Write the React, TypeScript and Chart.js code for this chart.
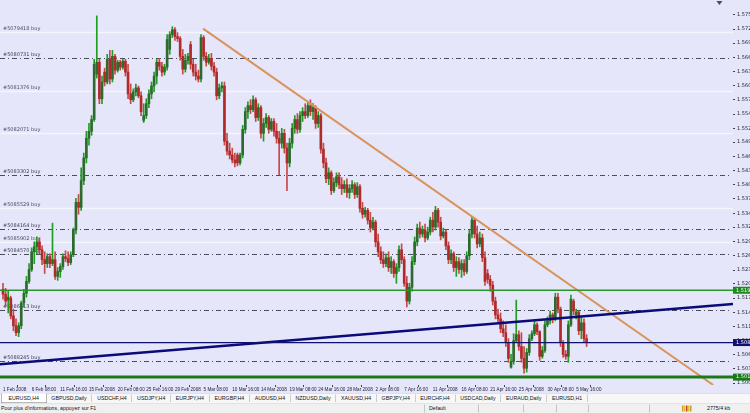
import React, { useEffect, useRef } from 'react';
import { Chart, registerables } from 'chart.js';

Chart.register(...registerables);

// ---------- data ----------
const opens = [
1.5194,1.5184,1.5172,1.5176,1.5140,1.5120,1.5106,1.5120,1.5166,1.5186,
1.5210,1.5234,1.5270,1.5280,1.5290,1.5274,1.5254,1.5246,1.5260,1.5246,
1.5254,1.5220,1.5230,1.5240,1.5260,1.5256,1.5248,1.5264,1.5314,1.5370,
1.5360,1.5414,1.5460,1.5500,1.5514,1.5538,1.5630,1.5654,1.5580,1.5634,
1.5614,1.5660,1.5620,1.5666,1.5638,1.5654,1.5644,1.5656,1.5634,1.5590,
1.5578,1.5594,1.5602,1.5586,1.5536,1.5546,1.5570,1.5590,1.5606,1.5626,
1.5654,1.5646,1.5634,1.5644,1.5680,1.5710,1.5720,1.5706,1.5702,1.5666,
1.5640,1.5658,1.5690,1.5650,1.5634,1.5626,1.5620,1.5704,1.5666,1.5654,
1.5662,1.5646,1.5634,1.5586,1.5602,1.5606,1.5494,1.5474,1.5466,1.5456,
1.5466,1.5450,1.5466,1.5518,1.5554,1.5566,1.5558,1.5578,1.5542,1.5562,
1.5510,1.5530,1.5542,1.5518,1.5534,1.5514,1.5500,1.5490,1.5510,1.5480,
1.5450,1.5490,1.5520,1.5538,1.5518,1.5546,1.5554,1.5546,1.5566,1.5554,
1.5562,1.5530,1.5546,1.5478,1.5450,1.5418,1.5430,1.5394,1.5410,1.5422,
1.5406,1.5398,1.5406,1.5390,1.5398,1.5406,1.5386,1.5402,1.5358,1.5346,
1.5354,1.5334,1.5318,1.5330,1.5290,1.5270,1.5254,1.5246,1.5258,1.5238,
1.5250,1.5226,1.5238,1.5274,1.5254,1.5206,1.5170,1.5198,1.5250,1.5290,
1.5318,1.5306,1.5314,1.5298,1.5310,1.5334,1.5320,1.5354,1.5330,1.5302,
1.5310,1.5282,1.5254,1.5266,1.5238,1.5250,1.5234,1.5246,1.5230,1.5262,
1.5306,1.5334,1.5306,1.5286,1.5298,1.5258,1.5226,1.5214,1.5202,1.5170,
1.5142,1.5134,1.5114,1.5106,1.5086,1.5036,1.5048,1.5090,1.5102,1.5078,
1.5054,1.5034,1.5066,1.5094,1.5104,1.5122,1.5108,1.5058,1.5070,1.5122,
1.5130,1.5142,1.5134,1.5178,1.5154,1.5086,1.5062,1.5058,1.5122,1.5170,
1.5142,1.5148,1.5110,1.5126,1.5094];

const highs = [
1.5206,1.5196,1.5190,1.5180,1.5154,1.5134,1.5126,1.5170,1.5194,1.5220,
1.5246,1.5278,1.5290,1.5300,1.5298,1.5282,1.5270,1.5266,1.5266,1.5328,
1.5270,1.5238,1.5246,1.5266,1.5272,1.5270,1.5270,1.5318,1.5378,1.5386,
1.5440,1.5470,1.5514,1.5530,1.5546,1.5660,1.5748,1.5660,1.5626,1.5642,
1.5670,1.5678,1.5678,1.5670,1.5658,1.5658,1.5660,1.5660,1.5650,1.5610,
1.5600,1.5610,1.5606,1.5594,1.5570,1.5580,1.5598,1.5614,1.5634,1.5660,
1.5662,1.5654,1.5650,1.5710,1.5716,1.5726,1.5724,1.5714,1.5706,1.5680,
1.5670,1.5672,1.5696,1.5660,1.5650,1.5638,1.5710,1.5708,1.5674,1.5670,
1.5672,1.5654,1.5642,1.5610,1.5614,1.5614,1.5510,1.5490,1.5480,1.5470,
1.5470,1.5470,1.5526,1.5562,1.5574,1.5578,1.5586,1.5582,1.5570,1.5566,
1.5540,1.5550,1.5546,1.5540,1.5540,1.5530,1.5514,1.5520,1.5518,1.5490,
1.5500,1.5530,1.5546,1.5550,1.5554,1.5562,1.5570,1.5574,1.5578,1.5570,
1.5566,1.5554,1.5550,1.5490,1.5460,1.5440,1.5434,1.5420,1.5430,1.5430,
1.5420,1.5414,1.5418,1.5406,1.5414,1.5410,1.5410,1.5406,1.5370,1.5360,
1.5358,1.5350,1.5340,1.5334,1.5306,1.5280,1.5270,1.5266,1.5270,1.5260,
1.5254,1.5246,1.5282,1.5286,1.5260,1.5220,1.5206,1.5260,1.5300,1.5326,
1.5330,1.5322,1.5326,1.5320,1.5340,1.5350,1.5362,1.5358,1.5340,1.5318,
1.5314,1.5290,1.5274,1.5270,1.5260,1.5258,1.5254,1.5254,1.5270,1.5314,
1.5342,1.5338,1.5322,1.5310,1.5306,1.5270,1.5234,1.5222,1.5210,1.5178,
1.5154,1.5146,1.5130,1.5122,1.5094,1.5062,1.5104,1.5172,1.5110,1.5106,
1.5078,1.5074,1.5102,1.5110,1.5130,1.5126,1.5110,1.5078,1.5130,1.5138,
1.5150,1.5146,1.5186,1.5186,1.5158,1.5090,1.5070,1.5130,1.5182,1.5174,
1.5154,1.5150,1.5138,1.5134,1.5102];

const lows = [
1.5174,1.5160,1.5146,1.5134,1.5110,1.5100,1.5098,1.5114,1.5158,1.5178,
1.5206,1.5230,1.5246,1.5266,1.5266,1.5244,1.5226,1.5238,1.5238,1.5242,
1.5214,1.5212,1.5218,1.5234,1.5250,1.5242,1.5244,1.5260,1.5306,1.5346,
1.5354,1.5406,1.5450,1.5486,1.5506,1.5534,1.5622,1.5570,1.5570,1.5606,
1.5610,1.5610,1.5614,1.5630,1.5634,1.5638,1.5640,1.5626,1.5580,1.5570,
1.5574,1.5586,1.5582,1.5546,1.5532,1.5540,1.5562,1.5580,1.5594,1.5610,
1.5638,1.5626,1.5628,1.5638,1.5670,1.5704,1.5698,1.5696,1.5658,1.5630,
1.5634,1.5650,1.5640,1.5626,1.5618,1.5614,1.5614,1.5658,1.5646,1.5650,
1.5638,1.5626,1.5578,1.5580,1.5594,1.5486,1.5466,1.5458,1.5450,1.5442,
1.5444,1.5446,1.5460,1.5510,1.5540,1.5550,1.5554,1.5534,1.5536,1.5500,
1.5494,1.5522,1.5510,1.5514,1.5504,1.5490,1.5426,1.5480,1.5470,1.5394,
1.5442,1.5480,1.5510,1.5510,1.5512,1.5534,1.5540,1.5542,1.5546,1.5538,
1.5520,1.5522,1.5470,1.5440,1.5410,1.5406,1.5386,1.5390,1.5402,1.5398,
1.5386,1.5390,1.5380,1.5378,1.5390,1.5378,1.5380,1.5350,1.5338,1.5340,
1.5326,1.5310,1.5314,1.5280,1.5260,1.5246,1.5238,1.5240,1.5230,1.5226,
1.5218,1.5206,1.5230,1.5246,1.5200,1.5158,1.5164,1.5190,1.5244,1.5282,
1.5298,1.5300,1.5290,1.5294,1.5304,1.5310,1.5314,1.5320,1.5294,1.5298,
1.5274,1.5246,1.5246,1.5230,1.5220,1.5226,1.5218,1.5222,1.5226,1.5254,
1.5298,1.5298,1.5278,1.5280,1.5250,1.5202,1.5206,1.5190,1.5162,1.5134,
1.5126,1.5106,1.5098,1.5078,1.5046,1.5034,1.5042,1.5086,1.5070,1.5046,
1.5024,1.5026,1.5060,1.5090,1.5100,1.5102,1.5050,1.5054,1.5066,1.5118,
1.5124,1.5126,1.5130,1.5146,1.5078,1.5056,1.5052,1.5046,1.5118,1.5142,
1.5134,1.5102,1.5094,1.5086,1.5078];

const closes = [
1.5184,1.5170,1.5178,1.5140,1.5120,1.5106,1.5120,1.5166,1.5186,1.5210,
1.5234,1.5270,1.5280,1.5290,1.5274,1.5254,1.5246,1.5260,1.5246,1.5254,
1.5220,1.5230,1.5240,1.5260,1.5256,1.5248,1.5264,1.5314,1.5370,1.5360,
1.5414,1.5460,1.5500,1.5514,1.5538,1.5650,1.5654,1.5580,1.5614,1.5614,
1.5660,1.5620,1.5666,1.5638,1.5654,1.5644,1.5656,1.5634,1.5590,1.5578,
1.5594,1.5602,1.5586,1.5554,1.5546,1.5570,1.5590,1.5606,1.5626,1.5654,
1.5646,1.5634,1.5644,1.5700,1.5710,1.5720,1.5706,1.5702,1.5666,1.5640,
1.5658,1.5666,1.5650,1.5634,1.5626,1.5620,1.5704,1.5666,1.5654,1.5662,
1.5646,1.5634,1.5586,1.5602,1.5606,1.5494,1.5474,1.5466,1.5456,1.5450,
1.5450,1.5466,1.5518,1.5554,1.5566,1.5558,1.5578,1.5542,1.5562,1.5510,
1.5530,1.5542,1.5518,1.5534,1.5514,1.5500,1.5490,1.5510,1.5480,1.5450,
1.5490,1.5520,1.5538,1.5518,1.5546,1.5554,1.5546,1.5566,1.5554,1.5562,
1.5530,1.5546,1.5478,1.5450,1.5418,1.5430,1.5394,1.5410,1.5422,1.5406,
1.5398,1.5406,1.5390,1.5398,1.5406,1.5386,1.5402,1.5358,1.5346,1.5354,
1.5334,1.5318,1.5330,1.5290,1.5270,1.5254,1.5246,1.5258,1.5238,1.5250,
1.5226,1.5238,1.5274,1.5254,1.5206,1.5170,1.5198,1.5250,1.5290,1.5318,
1.5306,1.5314,1.5298,1.5310,1.5334,1.5320,1.5354,1.5330,1.5302,1.5310,
1.5282,1.5254,1.5266,1.5238,1.5250,1.5234,1.5246,1.5230,1.5262,1.5306,
1.5334,1.5306,1.5286,1.5298,1.5258,1.5210,1.5214,1.5202,1.5170,1.5142,
1.5134,1.5114,1.5106,1.5086,1.5054,1.5048,1.5090,1.5102,1.5078,1.5054,
1.5034,1.5066,1.5094,1.5104,1.5122,1.5108,1.5058,1.5070,1.5122,1.5130,
1.5142,1.5134,1.5178,1.5154,1.5086,1.5062,1.5058,1.5122,1.5174,1.5150,
1.5148,1.5110,1.5126,1.5094,1.5086];

const dateTickIdx = [0,11,22,33,44,55,66,77,88,99,110,121,132,143,154,165,176,187,198,209,220];
const dateLabels = ['1 Feb 2008','6 Feb 08:00','11 Feb 16:00','15 Feb 2008','20 Feb 08:00','25 Feb 16:00','29 Feb 2008','5 Mar 08:00','10 Mar 16:00','14 Mar 2008','19 Mar 08:00','24 Mar 16:00','28 Mar 2008','2 Apr 08:00','7 Apr 16:00','11 Apr 2008','16 Apr 08:00','21 Apr 16:00','25 Apr 2008','30 Apr 08:00','5 May 16:00'];

const priceTicks = [1.5750,1.5721,1.5693,1.5664,1.5635,1.5607,1.5578,1.5549,1.5520,1.5492,1.5463,1.5434,1.5406,1.5377,1.5348,1.5320,1.5291,1.5262,1.5233,1.5205,1.5176,1.5147,1.5119,1.5090,1.5061,1.5033,1.5004];

const entryLevels = [1.5662, 1.5426, 1.5316, 1.5266, 1.5152, 1.5048];
const entryTickets = ['#5080731 buy', '#5083302 buy', '#5084164 buy', '#5084570 buy', '#5086613 buy', '#5088245 buy'];
const targetLevels = [1.5716, 1.5596, 1.5510, 1.5358, 1.5290];
const targetTickets = ['#5079418 buy', '#5081376 buy', '#5082071 buy', '#5085529 buy', '#5085902 buy'];

const supportLevel = 1.5192;
const pivotLevel = 1.5086;
const floorLevel = 1.5016;

const navyTrendX = [-1.15, 280.2];
const navyTrendY = [1.5042, 1.5164];
const orangeTrendX = [76.8, 272.6];
const orangeTrendY = [1.5722, 1.5000];

const shiftMarkIdx = 275;

const tabs = ['EURUSD,H4','GBPUSD,Daily','USDCHF,H4','USDJPY,H4','EURJPY,H4','EURGBP,H4','AUDUSD,H4','NZDUSD,Daily','XAUUSD,H4','GBPJPY,H4','EURCHF,H4','USDCAD,Daily','EURAUD,Daily','EURUSD,H1'];

// ---------- styles ----------
const BG = '#E6E6FA';
const UP_WICK = '#1E9E1E';
const UP_BODY = '#2E6A2E';
const DN_WICK = '#C84848';
const DN_BODY = '#B02A2A';
const FONT = 'DejaVu Sans';
const NARROW = 'Liberation Sans';

export default function App() {
  const ref = useRef<HTMLCanvasElement>(null);

  useEffect(() => {
    document.body.style.margin = '0';
    const canvas = ref.current;
    if (!canvas) return;

    const bgPlugin = {
      id: 'bg',
      beforeDraw(chart: any) {
        const { ctx, width, height } = chart;
        ctx.save();
        ctx.fillStyle = BG;
        ctx.fillRect(0, 0, width, height);
        ctx.restore();
      },
    };

    const levelsPlugin = {
      id: 'levels',
      beforeDatasetsDraw(chart: any) {
        const { ctx, chartArea } = chart;
        const y = chart.scales.y;
        ctx.save();
        ctx.font = `5px "${FONT}"`;
        ctx.textBaseline = 'bottom';
        targetLevels.forEach((lvl, k) => {
          const py = Math.round(y.getPixelForValue(lvl)) + 0.5;
          ctx.strokeStyle = 'rgba(255,255,255,0.6)';
          ctx.lineWidth = 1.5;
          ctx.setLineDash([]);
          ctx.beginPath();
          ctx.moveTo(chartArea.left, py);
          ctx.lineTo(chartArea.right, py);
          ctx.stroke();
          ctx.fillStyle = '#4A4A6A';
          ctx.fillText(targetTickets[k], chartArea.left + 3, py - 1);
        });
        entryLevels.forEach((lvl, k) => {
          const py = Math.round(y.getPixelForValue(lvl)) + 0.5;
          ctx.strokeStyle = '#4C4C5C';
          ctx.lineWidth = 1;
          ctx.setLineDash([5, 3, 1, 3]);
          ctx.beginPath();
          ctx.moveTo(chartArea.left, py);
          ctx.lineTo(chartArea.right - 3, py);
          ctx.stroke();
          ctx.fillStyle = '#3A3A5A';
          ctx.fillText(entryTickets[k], chartArea.left + 3, py - 1);
        });
        ctx.restore();
      },
      afterDatasetsDraw(chart: any) {
        const { ctx, chartArea, width } = chart;
        const y = chart.scales.y;
        const x = chart.scales.x;
        ctx.save();
        const hline = (lvl: number, color: string, lw: number) => {
          const py = y.getPixelForValue(lvl);
          ctx.strokeStyle = color;
          ctx.lineWidth = lw;
          ctx.setLineDash([]);
          ctx.beginPath();
          ctx.moveTo(chartArea.left, py);
          ctx.lineTo(chartArea.right, py);
          ctx.stroke();
        };
        hline(supportLevel, '#2A962A', 1.5);
        hline(pivotLevel, '#10106E', 1.2);
        hline(floorLevel, '#1A7A1A', 3);
        const tag = (lvl: number, color: string) => {
          const py = y.getPixelForValue(lvl);
          ctx.fillStyle = color;
          ctx.fillRect(chartArea.right, py - 3.5, width - chartArea.right, 7);
          ctx.fillStyle = '#FFFFFF';
          ctx.font = `5px "${FONT}"`;
          ctx.textBaseline = 'middle';
          ctx.textAlign = 'left';
          ctx.fillText(lvl.toFixed(4), chartArea.right + 3, py);
        };
        tag(supportLevel, '#1E8A1E');
        tag(pivotLevel, '#10106E');
        tag(floorLevel, '#1A7A1A');
        // chart shift marker
        const mx = x.getPixelForValue(shiftMarkIdx);
        ctx.fillStyle = '#4A4A5A';
        ctx.beginPath();
        ctx.moveTo(mx - 3, 1);
        ctx.lineTo(mx + 3, 1);
        ctx.lineTo(mx, 5);
        ctx.closePath();
        ctx.fill();
        ctx.restore();
      },
    };

    const isUp = (i: number) => closes[i] >= opens[i];

    const chart = new Chart(canvas, {
      type: 'bar',
      data: {
        datasets: [
          {
            type: 'line',
            data: navyTrendX.map((vx, k) => ({ x: vx, y: navyTrendY[k] })),
            borderColor: '#0A0A78',
            borderWidth: 2.6,
            pointRadius: 0,
            order: 0,
          } as any,
          {
            type: 'line',
            data: orangeTrendX.map((vx, k) => ({ x: vx, y: orangeTrendY[k] })),
            borderColor: '#D9945A',
            borderWidth: 2,
            pointRadius: 0,
            order: 0,
          } as any,
          {
            type: 'bar',
            data: opens.map((o, i) => ({ x: i, y: [o, closes[i]] })),
            backgroundColor: (c: any) => (isUp(c.dataIndex) ? UP_BODY : DN_BODY),
            barThickness: 2,
            minBarLength: 1,
            grouped: false,
            borderWidth: 0,
            order: 1,
          } as any,
          {
            type: 'bar',
            data: opens.map((_, i) => ({ x: i, y: [lows[i], highs[i]] })),
            backgroundColor: (c: any) => (isUp(c.dataIndex) ? UP_WICK : DN_WICK),
            barThickness: 1,
            grouped: false,
            borderWidth: 0,
            order: 2,
          } as any,
        ],
      },
      options: {
        responsive: false,
        animation: false,
        events: [],
        layout: { autoPadding: false, padding: 0 },
        plugins: { legend: { display: false }, tooltip: { enabled: false } },
        scales: {
          x: {
            type: 'linear',
            min: -1.15,
            max: 280.2,
            offset: false,
            grid: { drawOnChartArea: false, drawTicks: true, tickLength: 2, color: '#404050' },
            border: { display: false },
            afterBuildTicks: (s: any) => {
              s.ticks = dateTickIdx.map((v) => ({ value: v }));
            },
            afterFit: (s: any) => {
              s.height = 8;
            },
            ticks: {
              autoSkip: false,
              maxRotation: 0,
              minRotation: 0,
              align: 'start',
              padding: 0,
              color: '#202040',
              font: { family: NARROW, size: 4.6 },
              callback: (v: any) => {
                const k = dateTickIdx.indexOf(Number(v));
                return k >= 0 ? dateLabels[k] : '';
              },
            },
          },
          y: {
            type: 'linear',
            position: 'right',
            min: 1.5,
            max: 1.577,
            grid: { drawOnChartArea: false, drawTicks: true, tickLength: 2, color: '#404050' },
            border: { display: false },
            afterBuildTicks: (s: any) => {
              s.ticks = priceTicks.map((v) => ({ value: v }));
            },
            afterFit: (s: any) => {
              s.width = 17;
            },
            ticks: {
              autoSkip: false,
              padding: 2,
              color: '#202030',
              font: { family: FONT, size: 5 },
              callback: (v: any) => Number(v).toFixed(4),
            },
          },
        },
      } as any,
      plugins: [bgPlugin, levelsPlugin],
    });

    return () => chart.destroy();
  }, []);

  const sepStyle = (left: number): React.CSSProperties => ({
    position: 'absolute', left, top: 2, width: 1, height: 16, background: '#9A9A9A',
  });

  return (
    <div style={{ position: 'relative', width: 750, height: 413, overflow: 'hidden', background: BG }}>
      <canvas ref={ref} width={750} height={393} style={{ position: 'absolute', left: 0, top: 0, width: 750, height: 393 }} />
      <div
        style={{
          position: 'absolute', left: 0, top: 393, width: 1500, height: 40,
          transform: 'scale(0.5)', transformOrigin: '0 0',
          fontFamily: '"Liberation Sans", Arial, sans-serif', fontSize: 10, color: '#111',
        }}
      >
        <div style={{ height: 20, background: '#F7F7F7', borderTop: '1px solid #C8C8D0', boxSizing: 'border-box', display: 'flex', alignItems: 'stretch', whiteSpace: 'nowrap' }}>
          {tabs.map((t, i) => (
            <div
              key={t + i}
              style={i === 0
                ? { padding: '0 14px', marginLeft: 2, background: '#FFFFFF', border: '1px solid #707070', borderTop: 'none', lineHeight: '17px', fontSize: 10.5 }
                : { padding: '0 10px', borderRight: '1px solid #A0A0A0', margin: '2px 0', lineHeight: '15px', fontSize: 10.5 }}
            >
              {t}
            </div>
          ))}
        </div>
        <div style={{ position: 'relative', height: 20, background: '#F0F0F0', borderTop: '1px solid #D8D8D8', boxSizing: 'border-box', whiteSpace: 'nowrap', lineHeight: '19px', fontSize: 10.5 }}>
          <span style={{ position: 'absolute', left: 2 }}>Pour plus d'informations, appuyez sur F1</span>
          <div style={sepStyle(848)} />
          <span style={{ position: 'absolute', left: 858 }}>Default</span>
          <div style={sepStyle(956)} />
          <div style={sepStyle(1046)} />
          <div style={sepStyle(1112)} />
          <div style={sepStyle(1176)} />
          <div style={sepStyle(1298)} />
          <span style={{ position: 'absolute', left: 1364, top: 4, display: 'flex', gap: 1 }}>
            <span style={{ width: 3, height: 12, background: '#C8A020' }} />
            <span style={{ width: 3, height: 12, background: '#E0C040' }} />
            <span style={{ width: 3, height: 12, background: '#C84020' }} />
            <span style={{ width: 3, height: 12, background: '#E0C040' }} />
            <span style={{ width: 3, height: 12, background: '#C8A020' }} />
          </span>
          <span style={{ position: 'absolute', left: 1414 }}>2775/4 kb</span>
        </div>
      </div>
    </div>
  );
}
